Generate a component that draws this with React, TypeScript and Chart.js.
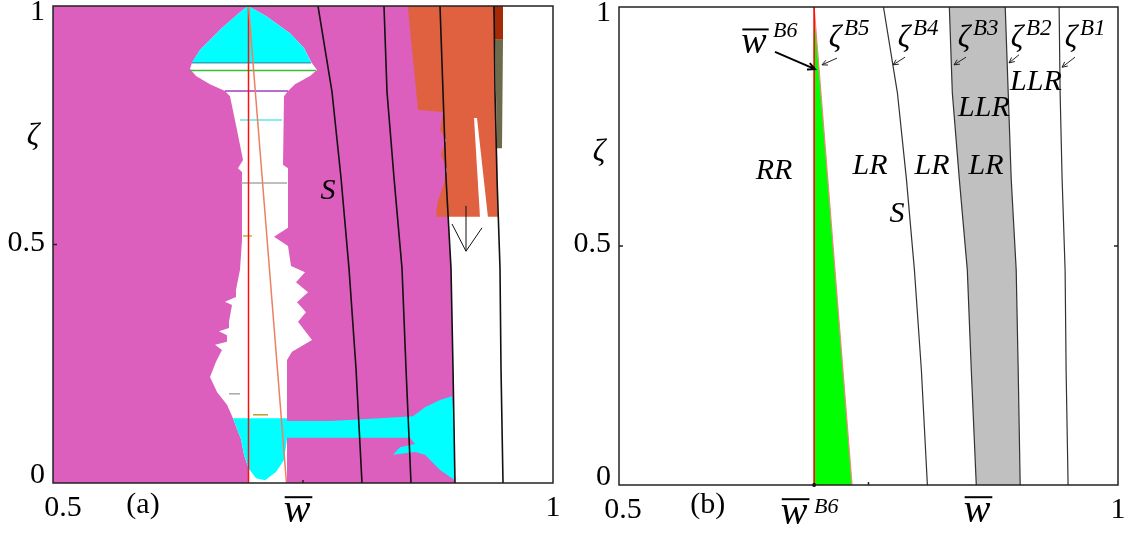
import React, { useEffect, useRef } from "react";
import { Chart, registerables } from "chart.js";

Chart.register(...registerables);

const SERIF = "'Liberation Serif', 'Times New Roman', serif";

// ---------------- axes ----------------
const X_MIN = 0.5;
const X_MAX = 1;
const Y_MIN = 0;
const Y_MAX = 1;
const xTickValues = [0.5, 1];
const xTickLabels = ["0.5", "1"];
const yTickValues = [0, 0.5, 1];
const yTickLabels = ["0", "0.5", "1"];
const xMinorTicks = [0.75];
const yMinorTicks = [0.5];

// ---------------- border-collision curves (w at the given zeta) ----------------
const curveZeta = [1, 0.82, 0.64, 0.45, 0.24, 0];
const curveB4 = [0.765, 0.779, 0.788, 0.796, 0.803, 0.809];
const curveB3 = [0.831, 0.834, 0.841, 0.849, 0.853, 0.858];
const curveB2 = [0.887, 0.89, 0.893, 0.898, 0.9, 0.902];
const curveB1 = [0.941, 0.942, 0.944, 0.947, 0.948, 0.95];
const wB6 = 0.6955;
const curveB5W = [0.6955, 0.7335];
const curveB5Z = [1, 0];

// ---------------- panel (a) regions: [w, zeta] ----------------
const orangeRegion = [
  [0.8547, 1], [0.9407, 1], [0.942, 0.824], [0.944, 0.698], [0.945, 0.558],
  [0.884, 0.558], [0.883, 0.564], [0.885, 0.593], [0.89, 0.621], [0.894, 0.656],
  [0.888, 0.688], [0.893, 0.719], [0.887, 0.74], [0.89, 0.778], [0.865, 0.782],
];
const darkRedRegion = [[0.94, 1], [0.95, 1], [0.95, 0.929], [0.942, 0.929]];
const oliveRegion = [[0.942, 0.929], [0.95, 0.929], [0.949, 0.702], [0.944, 0.702]];
const whiteWedge = [[0.921, 0.765], [0.924, 0.765], [0.935, 0.556], [0.927, 0.556]];
const towerOutline = [
  [0.695, 1.0], [0.713, 0.979], [0.737, 0.943], [0.751, 0.912], [0.758, 0.883],
  [0.764, 0.866], [0.757, 0.853], [0.742, 0.836], [0.735, 0.822], [0.731, 0.811],
  [0.73, 0.667], [0.735, 0.66], [0.735, 0.535], [0.721, 0.516], [0.735, 0.497],
  [0.738, 0.455], [0.752, 0.442], [0.743, 0.421], [0.755, 0.4], [0.744, 0.379],
  [0.753, 0.358], [0.745, 0.338], [0.759, 0.3], [0.739, 0.275], [0.734, 0.258],
  [0.734, 0.0], [0.6955, 0.0], [0.6955, 0.031], [0.691, 0.059], [0.688, 0.092], [0.684, 0.113], [0.68, 0.136],
  [0.674, 0.164], [0.664, 0.191], [0.657, 0.222], [0.663, 0.254], [0.669, 0.279],
  [0.662, 0.29], [0.674, 0.296], [0.674, 0.31], [0.666, 0.318], [0.676, 0.325],
  [0.676, 0.338], [0.679, 0.373], [0.672, 0.38], [0.683, 0.39], [0.683, 0.405], [0.687, 0.447],
  [0.689, 0.509], [0.689, 0.652], [0.685, 0.66], [0.69, 0.677], [0.684, 0.74],
  [0.677, 0.811], [0.672, 0.822], [0.657, 0.836], [0.643, 0.853], [0.637, 0.868],
  [0.639, 0.881], [0.647, 0.908], [0.669, 0.954], [0.687, 0.987],
];
const cyanTop = [
  [0.695, 1.0], [0.713, 0.979], [0.737, 0.943], [0.751, 0.912], [0.758, 0.882],
  [0.639, 0.882], [0.647, 0.908], [0.669, 0.954], [0.687, 0.987],
];
const cyanBulb = [
  [0.68, 0.136], [0.734, 0.136], [0.734, 0.092], [0.731, 0.048], [0.723, 0.023],
  [0.712, 0.006], [0.703, 0.01], [0.6955, 0.031], [0.691, 0.059], [0.688, 0.092],
  [0.684, 0.113],
];
const cyanBand = [
  [0.734, 0.13], [0.777, 0.13], [0.827, 0.136], [0.86, 0.14], [0.872, 0.159],
  [0.887, 0.174], [0.899, 0.182], [0.901, 0.132], [0.902, 0.006], [0.887, 0.027],
  [0.872, 0.059], [0.862, 0.065], [0.84, 0.059], [0.847, 0.075], [0.862, 0.082],
  [0.857, 0.095], [0.777, 0.095], [0.734, 0.095],
];
// thin horizontal streaks inside the white column: [w1, w2, zeta]
const streakW1 = [0.639, 0.637, 0.672, 0.687, 0.688, 0.69, 0.676, 0.7];
const streakW2 = [0.758, 0.763, 0.735, 0.729, 0.734, 0.699, 0.687, 0.715];
const streakZ = [0.881, 0.865, 0.822, 0.761, 0.629, 0.518, 0.187, 0.143];
const streakColors = ["#2aa8b8", "#3cbc3c", "#9b3fc0", "#5ee8e8", "#a8a8a8", "#c8b040", "#a8a8a8", "#b8a030"];
// arrow in panel (a)
const arrowAW = [0.913, 0.913];
const arrowAZ = [0.581, 0.486];
const arrowAHeadW = [0.899, 0.929];
const arrowAHeadZ = [0.543, 0.535];

// ---------------- panel (b) annotations ----------------
const regionLabelsB = [
  { t: "RR", w: 0.6553, z: 0.657 },
  { t: "LR", w: 0.7515, z: 0.667 },
  { t: "LR", w: 0.8136, z: 0.667 },
  { t: "LR", w: 0.8677, z: 0.667 },
  { t: "S", w: 0.7786, z: 0.567 },
  { t: "LLR", w: 0.8657, z: 0.789 },
  { t: "LLR", w: 0.9178, z: 0.843 },
];
const zetaLabelNames = ["B5", "B4", "B3", "B2", "B1"];
const zetaLabelW = [0.7164, 0.7856, 0.8457, 0.8988, 0.9529];
const zetaLabelZ = [0.933, 0.933, 0.933, 0.933, 0.933];
const zetaArrowFromW = [0.7184, 0.7866, 0.8477, 0.9008, 0.9569];
const zetaArrowFromZ = [0.893, 0.895, 0.895, 0.9, 0.895];
const zetaArrowToW = [0.7034, 0.7745, 0.8357, 0.8908, 0.9439];
const zetaArrowToZ = [0.879, 0.879, 0.879, 0.883, 0.874];

const MAGENTA = "#dd5fbd";
const CYAN = "#00ffff";
const ORANGE = "#e0613f";

type Pair = number[];

const toPts = (pairs: Pair[]) => pairs.map(([x, y]) => ({ x, y }));
const zip = (ws: number[], zs: number[]) => ws.map((w, i) => ({ x: w, y: zs[i] }));

function polygon(pairs: Pair[], color: string): any {
  return {
    data: toPts(pairs),
    fill: "shape",
    backgroundColor: color,
    borderColor: "rgba(0,0,0,0)",
    borderWidth: 0,
    pointRadius: 0,
    tension: 0,
  };
}
function polyline(pts: { x: number; y: number }[], color: string, width: number): any {
  return {
    data: pts,
    fill: false,
    borderColor: color,
    borderWidth: width,
    pointRadius: 0,
    tension: 0,
  };
}

function text(ctx: CanvasRenderingContext2D, s: string, x: number, y: number, font: string, align: CanvasTextAlign = "center", baseline: CanvasTextBaseline = "alphabetic") {
  ctx.font = font;
  ctx.textAlign = align;
  ctx.textBaseline = baseline;
  ctx.fillStyle = "#000";
  ctx.fillText(s, x, y);
}

function arrowHead(ctx: CanvasRenderingContext2D, x1: number, y1: number, x2: number, y2: number, len = 7) {
  const a = Math.atan2(y2 - y1, x2 - x1);
  ctx.beginPath();
  ctx.moveTo(x1, y1);
  ctx.lineTo(x2, y2);
  ctx.moveTo(x2 - len * Math.cos(a - 0.45), y2 - len * Math.sin(a - 0.45));
  ctx.lineTo(x2, y2);
  ctx.lineTo(x2 - len * Math.cos(a + 0.45), y2 - len * Math.sin(a + 0.45));
  ctx.stroke();
}

function drawWbar(ctx: CanvasRenderingContext2D, cx: number, baseline: number, size: number) {
  ctx.font = `italic ${size}px ${SERIF}`;
  ctx.textAlign = "center";
  ctx.textBaseline = "alphabetic";
  ctx.fillStyle = "#000";
  ctx.fillText("w", cx, baseline);
  const m = ctx.measureText("w").width;
  ctx.strokeStyle = "#000";
  ctx.lineWidth = 2;
  ctx.beginPath();
  ctx.moveTo(cx - m / 2 + 1, baseline - size * 0.62);
  ctx.lineTo(cx + m / 2 + 2, baseline - size * 0.62);
  ctx.stroke();
}

function drawAxes(chart: any, opts: { zetaLabelZ: number; wLabelW: number; tag: string; tagW: number; rightTick: boolean; firstDx: number }) {
  const ctx: CanvasRenderingContext2D = chart.ctx;
  const { left, right, top, bottom } = chart.chartArea;
  const xs = chart.scales.x;
  const ys = chart.scales.y;
  ctx.save();
  ctx.strokeStyle = "#222";
  ctx.lineWidth = 1.5;
  ctx.strokeRect(left, top, right - left, bottom - top);
  ctx.beginPath();
  xMinorTicks.forEach((v) => {
    const px = xs.getPixelForValue(v);
    ctx.moveTo(px, bottom);
    ctx.lineTo(px, bottom - 3);
  });
  yMinorTicks.forEach((v) => {
    const py = ys.getPixelForValue(v);
    ctx.moveTo(left, py);
    ctx.lineTo(left + 4, py);
    if (opts.rightTick) {
      ctx.moveTo(right, py);
      ctx.lineTo(right - 4, py);
    }
  });
  ctx.stroke();

  const tickFont = `30px ${SERIF}`;
  yTickValues.forEach((v, i) => {
    const py = ys.getPixelForValue(v);
    const base = Math.min(Math.max(py + 6, top + 14), bottom);
    text(ctx, yTickLabels[i], left - 8, base, tickFont, "right");
  });
  xTickValues.forEach((v, i) => {
    const px = xs.getPixelForValue(v) + (i === 0 ? opts.firstDx : 0);
    text(ctx, xTickLabels[i], px, bottom + 33, tickFont, "center");
  });
  text(ctx, "ζ", left - 20, ys.getPixelForValue(opts.zetaLabelZ), `italic 31px ${SERIF}`, "center", "middle");
  drawWbar(ctx, xs.getPixelForValue(opts.wLabelW), 522, 40);
  text(ctx, opts.tag, xs.getPixelForValue(opts.tagW), 513, `30px ${SERIF}`, "center");
  ctx.restore();
}

function withOrder(datasets: any[]) {
  return datasets.map((d, i) => ({ ...d, order: -i }));
}

function baseOptions(padding: any, plugin: any): any {
  return {
    type: "line",
    options: {
      responsive: false,
      maintainAspectRatio: false,
      animation: false,
      devicePixelRatio: 1,
      events: [],
      layout: { padding },
      scales: {
        x: { type: "linear", min: X_MIN, max: X_MAX, display: false },
        y: { type: "linear", min: Y_MIN, max: Y_MAX, display: false },
      },
      plugins: {
        legend: { display: false },
        tooltip: { enabled: false },
        filler: { drawTime: "beforeDatasetDraw", propagate: false },
      },
    },
    plugins: [plugin],
  };
}

function configA(): any {
  const magenta = [[X_MIN, 0], [X_MIN, 1], ...curveB2.map((w, i) => [w, curveZeta[i]])];
  const datasets: any[] = [
    polygon(magenta, MAGENTA),
    polygon(orangeRegion, ORANGE),
    polygon(darkRedRegion, "#a52a08"),
    polygon(oliveRegion, "#6e6a4c"),
    polygon(whiteWedge, "#ffffff"),
    polygon(towerOutline, "#ffffff"),
    polygon(cyanTop, CYAN),
    polygon(cyanBulb, CYAN),
    polygon(cyanBand, CYAN),
    ...streakZ.map((z, i) => polyline([{ x: streakW1[i], y: z }, { x: streakW2[i], y: z }], streakColors[i], 1.5)),
    polyline([{ x: wB6, y: 0 }, { x: wB6, y: 1 }], "#ff1010", 1.5),
    polyline(zip(curveB5W, curveB5Z), "#ee7f63", 1.5),
    polyline(zip(curveB4, curveZeta), "#111", 1.6),
    polyline(zip(curveB3, curveZeta), "#111", 1.6),
    polyline(zip(curveB2, curveZeta), "#111", 1.6),
    polyline(zip(curveB1, curveZeta), "#111", 1.6),
  ];
  const plugin = {
    id: "panelA",
    afterDraw(chart: any) {
      const ctx: CanvasRenderingContext2D = chart.ctx;
      const xs = chart.scales.x;
      const ys = chart.scales.y;
      ctx.save();
      ctx.strokeStyle = "#111";
      ctx.lineWidth = 1;
      const ax = xs.getPixelForValue(arrowAW[0]);
      const tipY = ys.getPixelForValue(arrowAZ[1]);
      ctx.beginPath();
      ctx.moveTo(ax, ys.getPixelForValue(arrowAZ[0]));
      ctx.lineTo(ax, tipY);
      ctx.moveTo(xs.getPixelForValue(arrowAHeadW[0]), ys.getPixelForValue(arrowAHeadZ[0]));
      ctx.lineTo(ax, tipY);
      ctx.lineTo(xs.getPixelForValue(arrowAHeadW[1]), ys.getPixelForValue(arrowAHeadZ[1]));
      ctx.stroke();
      text(ctx, "S", xs.getPixelForValue(0.775), ys.getPixelForValue(0.612), `italic 30px ${SERIF}`, "center", "middle");
      ctx.restore();
      drawAxes(chart, { zetaLabelZ: 0.725, wLabelW: 0.744, tag: "(a)", tagW: 0.59, rightTick: false, firstDx: 10 });
    },
  };
  const cfg = baseOptions({ left: 53, right: 13, top: 6, bottom: 54 }, plugin);
  cfg.data = { datasets: withOrder(datasets) };
  return cfg;
}

function configB(): any {
  const gray = [...curveB3.map((w, i) => [w, curveZeta[i]]), ...curveB2.map((w, i) => [w, curveZeta[i]]).reverse()];
  const green = [[wB6, 1], [wB6, 0], [curveB5W[1], curveB5Z[1]], [curveB5W[0], curveB5Z[0]]];
  const datasets: any[] = [
    polygon(gray, "#c0c0c0"),
    polygon(green, "#00ff00"),
    polyline(zip(curveB5W, curveB5Z), "#f08a7a", 1.2),
    polyline([{ x: wB6, y: 0 }, { x: wB6, y: 1 }], "#ff0000", 1.6),
    polyline(zip(curveB4, curveZeta), "#333", 1.2),
    polyline(zip(curveB3, curveZeta), "#333", 1.2),
    polyline(zip(curveB2, curveZeta), "#333", 1.2),
    polyline(zip(curveB1, curveZeta), "#333", 1.2),
  ];
  const plugin = {
    id: "panelB",
    afterDraw(chart: any) {
      const ctx: CanvasRenderingContext2D = chart.ctx;
      const xs = chart.scales.x;
      const ys = chart.scales.y;
      const { bottom } = chart.chartArea;
      ctx.save();
      const it = `italic 30px ${SERIF}`;
      regionLabelsB.forEach((l) => text(ctx, l.t, xs.getPixelForValue(l.w), ys.getPixelForValue(l.z), it, "center", "middle"));
      ctx.strokeStyle = "#222";
      ctx.lineWidth = 1;
      zetaLabelNames.forEach((n, i) => {
        const cx = xs.getPixelForValue(zetaLabelW[i]);
        const cy = ys.getPixelForValue(zetaLabelZ[i]);
        text(ctx, "ζ", cx, cy, `italic 31px ${SERIF}`, "center", "middle");
        text(ctx, n, cx + 9, cy - 4, `italic 23px ${SERIF}`, "left", "alphabetic");
        arrowHead(ctx, xs.getPixelForValue(zetaArrowFromW[i]), ys.getPixelForValue(zetaArrowFromZ[i]), xs.getPixelForValue(zetaArrowToW[i]), ys.getPixelForValue(zetaArrowToZ[i]), 6);
      });
      const wx = xs.getPixelForValue(0.6353);
      drawWbar(ctx, wx, 53, 38);
      text(ctx, "B6", wx + 19, 37, `italic 22px ${SERIF}`, "left", "alphabetic");
      arrowHead(ctx, xs.getPixelForValue(0.6563), ys.getPixelForValue(0.906), xs.getPixelForValue(0.6964), ys.getPixelForValue(0.87), 8);
      const bx = xs.getPixelForValue(wB6);
      ctx.fillStyle = "#000";
      ctx.beginPath();
      ctx.arc(bx, bottom, 2, 0, Math.PI * 2);
      ctx.fill();
      drawWbar(ctx, bx - 20, 524, 40);
      text(ctx, "B6", bx, 513, `italic 22px ${SERIF}`, "left", "alphabetic");
      ctx.restore();
      drawAxes(chart, { zetaLabelZ: 0.695, wLabelW: 0.8587, tag: "(b)", tagW: 0.589, rightTick: true, firstDx: 4 });
    },
  };
  const cfg = baseOptions({ left: 53, right: 9, top: 7, bottom: 52 }, plugin);
  cfg.data = { datasets: withOrder(datasets) };
  return cfg;
}

export default function App() {
  const refA = useRef<HTMLCanvasElement>(null);
  const refB = useRef<HTMLCanvasElement>(null);
  useEffect(() => {
    const a = new Chart(refA.current as HTMLCanvasElement, configA());
    const b = new Chart(refB.current as HTMLCanvasElement, configB());
    return () => {
      a.destroy();
      b.destroy();
    };
  }, []);
  return (
    <div style={{ position: "absolute", left: 0, top: 0, width: 1127, height: 537, background: "#fff" }}>
      <canvas ref={refA} width={566} height={537} style={{ position: "absolute", left: 0, top: 0, width: 566, height: 537 }} />
      <canvas ref={refB} width={561} height={537} style={{ position: "absolute", left: 566, top: 0, width: 561, height: 537 }} />
    </div>
  );
}
